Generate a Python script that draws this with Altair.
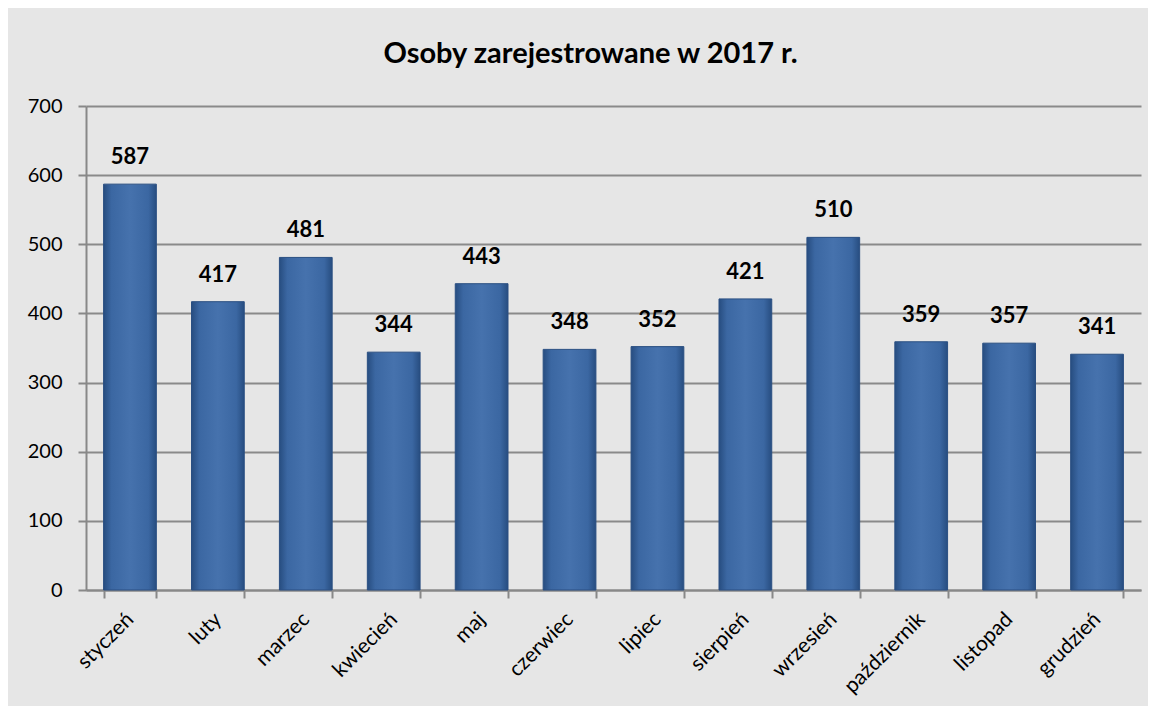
import altair as alt
import pandas as pd

months = ["styczeń", "luty", "marzec", "kwiecień", "maj", "czerwiec",
          "lipiec", "sierpień", "wrzesień", "październik", "listopad", "grudzień"]
values = [587, 417, 481, 344, 443, 348, 352, 421, 510, 359, 357, 341]
y_ticks = [0, 100, 200, 300, 400, 500, 600, 700]
title_text = "Osoby zarejestrowane w 2017 r."

df = pd.DataFrame({"month": months, "value": values})

FONT = "Lato"

bar_fill = alt.Gradient(
    gradient="linear", x1=0, x2=1, y1=0, y2=0,
    stops=[
        alt.GradientStop(color="#274d80", offset=0),
        alt.GradientStop(color="#3b67a2", offset=0.15),
        alt.GradientStop(color="#4672ad", offset=0.5),
        alt.GradientStop(color="#3b67a2", offset=0.85),
        alt.GradientStop(color="#274d80", offset=1),
    ],
)

x_enc = alt.X(
    "month:N", sort=months, title=None,
    scale=alt.Scale(paddingInner=0.4, paddingOuter=0.2),
    axis=alt.Axis(labelAngle=-45, labelAlign="right", labelBaseline="middle",
                  labelFontSize=21, labelFont=FONT, labelColor="#000000",
                  labelPadding=18, tickBand="extent", tickSize=8,
                  tickColor="#888888", tickWidth=2, domainColor="#888888",
                  domainWidth=2, grid=False),
)
y_enc = alt.Y(
    "value:Q", title=None,
    scale=alt.Scale(domain=[0, 700], nice=False),
    axis=alt.Axis(values=y_ticks, labelFontSize=20, labelFont=FONT,
                  labelColor="#000000", labelPadding=16, tickSize=8,
                  tickColor="#888888", tickWidth=2, domainColor="#888888",
                  domainWidth=2, gridColor="#8a8a8a", gridWidth=2),
)

bars = alt.Chart(df).mark_bar(fill=bar_fill, stroke="#2a4f82", strokeWidth=1).encode(
    x=x_enc, y=y_enc
)
labels = alt.Chart(df).mark_text(
    dy=-27, fontSize=22, fontWeight="bold", font=FONT, color="#000000"
).encode(x=alt.X("month:N", sort=months), y="value:Q", text="value:Q")

chart = (bars + labels).properties(
    width=1055, height=484,
    title=alt.TitleParams(title_text, fontSize=29, font=FONT, fontWeight="bold",
                          color="#000000", anchor="middle", dx=-23, offset=27),
    autosize=alt.AutoSizeParams(type="none"),
    padding={"left": 78, "top": 98, "right": 7, "bottom": 116},
    background="#e6e6e6",
).configure_view(stroke=None)

chart.save("out.html", embed_options={"renderer": "svg", "actions": False})
